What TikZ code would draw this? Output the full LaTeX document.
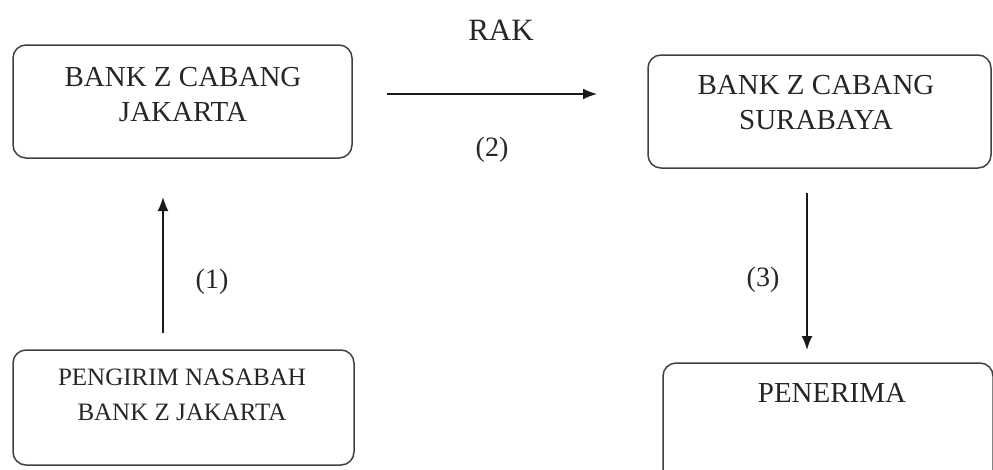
\documentclass[tikz,border=0pt]{standalone}
\usepackage{fontspec}
\setmainfont{Liberation Serif}
\usetikzlibrary{arrows.meta}
\begin{document}
\begin{tikzpicture}[x=1pt,y=-1pt,
  box/.style={draw=black!75, line width=1.5pt, rounded corners=13pt, inner sep=0pt, minimum width=#1},
  box/.default=340pt,
  txt/.style={font=\fontsize{29}{35}\selectfont, align=center, text=black!85, inner sep=0pt},
  smalltxt/.style={font=\fontsize{25}{35}\selectfont, align=center, text=black!85, inner sep=0pt},
  lbl/.style={font=\fontsize{28}{34}\selectfont, text=black!85, inner sep=0pt},
  arr/.style={-{Latex[length=14pt,width=11pt]}, line width=1.7pt, draw=black!90}]
\useasboundingbox (0,0) rectangle (993,469);
\clip (0,0) rectangle (993,469);
% boxes
\node[box=339pt, minimum height=113pt] (A) at (182.5,101.5) {};
\node[box=343pt, minimum height=113pt] (B) at (819.5,111.5) {};
\node[box=341pt, minimum height=115pt] (C) at (183.5,407.5) {};
\node[box=330pt, minimum height=127pt] (D) at (828,426.5) {};
% texts
\node[txt] (tA) at (183,94.5) {BANK Z CABANG\\JAKARTA};
\node[txt] (tB) at (816,102.5) {BANK Z CABANG\\SURABAYA};
\node[smalltxt] (tC) at (182,394.5) {PENGIRIM NASABAH\\BANK Z JAKARTA};
\node[txt] (tD) at (832,393) {PENERIMA};
\node[lbl, font=\fontsize{31}{36}\selectfont] (rak) at (501,30) {RAK};
\node[lbl] (l2) at (492,150) {(2)};
\node[lbl] (l1) at (212,282) {(1)};
\node[lbl] (l3) at (763,280) {(3)};
% arrow ends
\coordinate (a1s) at (163,333);
\coordinate (a1e) at (163,197);
\coordinate (a2s) at (387,94);
\coordinate (a2e) at (597,94);
\coordinate (a3s) at (807,193);
\coordinate (a3e) at (807,350);
\draw[arr] (a1s) -- (a1e);
\draw[arr] (a2s) -- (a2e);
\draw[arr] (a3s) -- (a3e);
\end{tikzpicture}
\end{document}
